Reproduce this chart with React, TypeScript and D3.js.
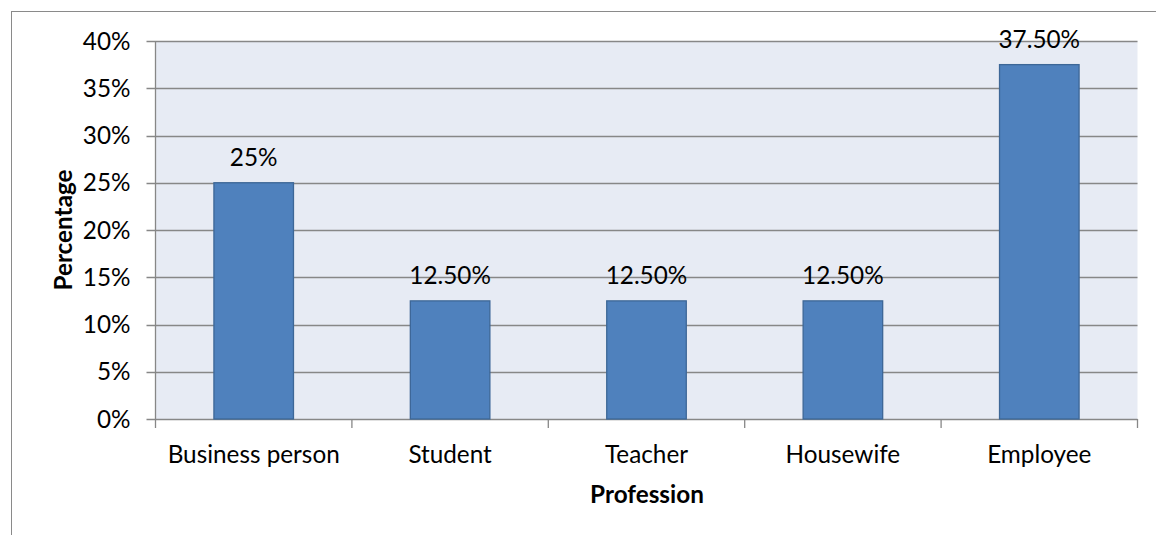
import React from "react";
import * as d3 from "d3";

const categories = ["Business person", "Student", "Teacher", "Housewife", "Employee"];
const values = [25, 12.5, 12.5, 12.5, 37.5];
const valueLabels = ["25%", "12.50%", "12.50%", "12.50%", "37.50%"];
const yTicks = [0, 5, 10, 15, 20, 25, 30, 35, 40];
const yTickLabels = ["0%", "5%", "10%", "15%", "20%", "25%", "30%", "35%", "40%"];

const W = 1156;
const H = 535;
const plot = { left: 155.5, top: 41, right: 1137.5, bottom: 419 };
const FONT = "Lato, Carlito, Calibri, 'Open Sans', sans-serif";
const FS = 24.3;

export default function App() {
  const x = d3
    .scaleBand<string>()
    .domain(categories)
    .range([plot.left, plot.right])
    .paddingInner(0)
    .paddingOuter(0);
  const y = d3.scaleLinear().domain([0, 40]).range([plot.bottom, plot.top]);
  const bw = x.bandwidth() * 0.405;
  const grid = "#878787";

  return (
    <svg
      width={W}
      height={H}
      style={{ position: "absolute", left: 0, top: 0, background: "#fff" }}
      fontFamily={FONT}
    >
      <rect x={11.5} y={11.5} width={W} height={H} fill="none" stroke="#8a8a8a" strokeWidth={1} />
      <rect
        x={plot.left}
        y={plot.top}
        width={plot.right - plot.left}
        height={plot.bottom - plot.top}
        fill="#E7EBF4"
      />
      {yTicks.map((t, i) => (
        <g key={t}>
          <line
            x1={plot.left - 9}
            x2={plot.right}
            y1={Math.round(y(t)) + 0.5}
            y2={Math.round(y(t)) + 0.5}
            stroke={grid}
            strokeWidth={1.3}
          />
          <text
            x={130.5}
            y={y(t)}
            dy="0.36em"
            textAnchor="end"
            fontSize={FS}
            fill="#000"
          >
            {yTickLabels[i]}
          </text>
        </g>
      ))}
      <line x1={plot.left} x2={plot.left} y1={plot.top} y2={plot.bottom} stroke={grid} strokeWidth={1.3} />
      {categories.map((c) => (
        <line
          key={"xt" + c}
          x1={x(c) as number}
          x2={x(c) as number}
          y1={plot.bottom}
          y2={plot.bottom + 9}
          stroke={grid}
          strokeWidth={1.3}
        />
      ))}
      <line
        x1={plot.right}
        x2={plot.right}
        y1={plot.bottom}
        y2={plot.bottom + 9}
        stroke={grid}
        strokeWidth={1.3}
      />
      {categories.map((c, i) => {
        const cx = (x(c) as number) + x.bandwidth() / 2;
        return (
          <g key={c}>
            <rect
              x={cx - bw / 2}
              y={y(values[i])}
              width={bw}
              height={plot.bottom - y(values[i])}
              fill="#4F81BD"
              stroke="#3D6797"
              strokeWidth={1.3}
            />
            <text x={cx} y={y(values[i]) - 17} textAnchor="middle" fontSize={FS} fill="#000">
              {valueLabels[i]}
            </text>
            <text x={cx} y={463} textAnchor="middle" fontSize={FS} fill="#000">
              {c}
            </text>
          </g>
        );
      })}
      <text
        transform={`translate(72,230) rotate(-90)`}
        textAnchor="middle"
        fontSize={FS}
        fontWeight="bold"
        fill="#000"
      >
        Percentage
      </text>
      <text x={647} y={503} textAnchor="middle" fontSize={FS} fontWeight="bold" fill="#000">
        Profession
      </text>
    </svg>
  );
}
